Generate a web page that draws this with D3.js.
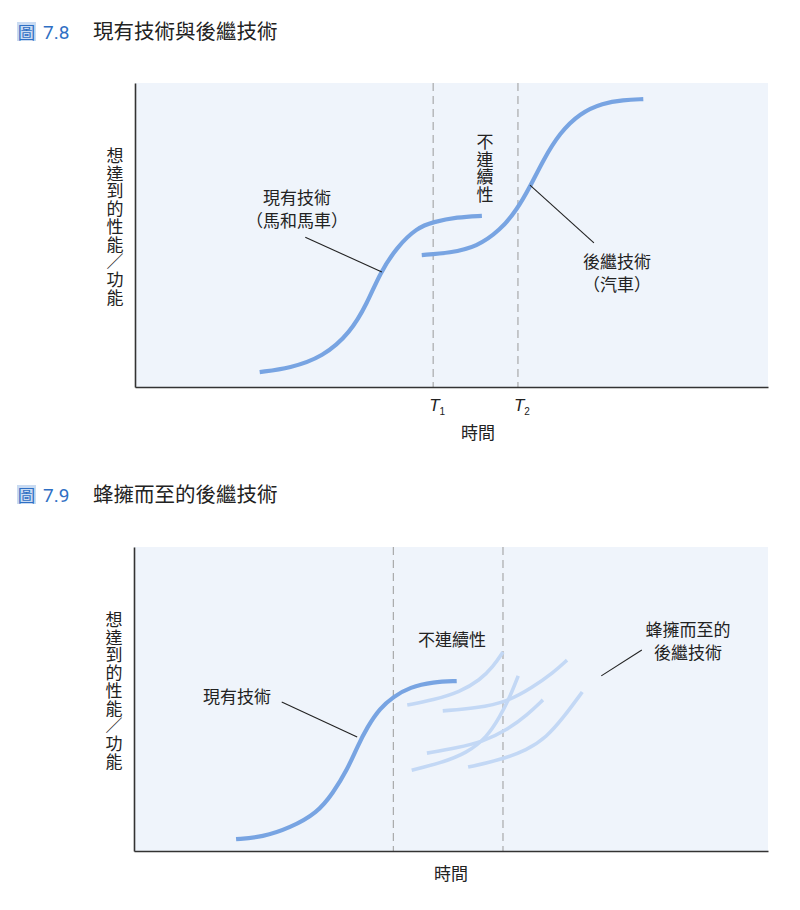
<!DOCTYPE html>
<html>
<head>
<meta charset="utf-8">
<script src="https://cdn.jsdelivr.net/npm/d3@7.9.0/dist/d3.min.js"></script>
<style>
  html, body { margin: 0; padding: 0; background: #fff; }
  svg { display: block; font-family: "Noto Sans CJK TC", "Noto Sans", sans-serif; }
</style>
</head>
<body>
<svg id="chart" width="800" height="910"></svg>
<script>
// curve data: [time, performance], both 0-100
const existingTech78 = [[19.7,4.9],[24.5,6.2],[29.7,9.9],[34.0,17.8],[36.7,27.6],[38.7,37.5],[41.4,46.1],[44.5,52.3],[47.1,54.3],[50.9,55.9],[54.8,56.3]];
const successorTech78 = [[45.3,43.4],[49.8,44.1],[54.0,46.1],[57.7,51.6],[60.3,58.2],[62.4,65.8],[64.5,74.7],[67.1,83.6],[70.3,90.1],[73.9,93.4],[77.1,94.4],[80.3,94.7]];
const breakpoints78 = [47.1, 60.5];
const breakLabels78 = ["1", "2"];

const existingTech79 = [[16.1,3.9],[20.3,4.6],[24.6,7.6],[28.9,12.5],[31.4,19.1],[33.6,26.6],[35.2,34.2],[36.8,40.8],[38.8,47.0],[40.9,50.7],[43.5,53.9],[47.2,55.6],[50.9,55.9]];
const swarm79 = [
  [[43.1,48.0],[47.2,49.7],[51.4,52.3],[54.6,56.3],[56.6,60.5],[58.2,65.5]],
  [[48.7,46.1],[54.1,47.0],[58.8,49.0],[62.9,53.9],[66.1,58.6],[68.3,62.8]],
  [[43.8,26.6],[48.3,28.9],[52.5,32.2],[55.7,37.5],[57.7,44.1],[59.3,50.7],[60.6,57.6]],
  [[46.2,32.2],[50.9,33.9],[55.0,35.9],[58.8,39.8],[62.0,44.7],[64.5,49.7]],
  [[52.7,27.6],[57.7,29.9],[62.0,33.2],[65.1,37.5],[67.7,43.8],[70.7,52.3]]
];
const breakpoints79 = [40.9, 58.2];

const yLabel = "想達到的性能／功能".split("");
const xLabel = "時間";

const BLUE = "#78a4e2", LIGHT = "#c3d8f5", PANEL = "#eff4fb", INK = "#222";

const svg = d3.select("#chart");

function title(y, num, text) {
  const g = svg.append("g");
  g.append("rect").attr("x", 17).attr("y", y - 10).attr("width", 19).attr("height", 19).attr("fill", "#c9dbf2");
  g.append("text").attr("x", 26.5).attr("y", y + 6.5).attr("text-anchor", "middle")
    .attr("font-size", 17.5).attr("fill", "#2f6fc4").text("圖");
  g.append("text").attr("x", 43).attr("y", y + 7).attr("font-size", 19).attr("fill", "#2f6fc4")
    .attr("font-family", "Roboto, 'Noto Sans', sans-serif").text(num);
  g.append("text").attr("x", 93).attr("y", y + 7).attr("font-size", 20.5).attr("fill", INK)
    .text(text);
}

// stacked characters, one per text element
function vertical(g, x, y0, chars, step) {
  chars.forEach((c, i) => {
    g.append("text").attr("x", x).attr("y", y0 + i * step).attr("text-anchor", "middle")
      .attr("font-size", 17).attr("fill", INK).text(c);
  });
}

function frame(box) {
  const x = d3.scaleLinear().domain([0, 100]).range([box.left, box.right]);
  const y = d3.scaleLinear().domain([0, 100]).range([box.bottom, box.top]);
  const g = svg.append("g");
  g.append("rect").attr("x", box.left).attr("y", box.top)
    .attr("width", box.right - box.left).attr("height", box.bottom - box.top).attr("fill", PANEL);
  vertical(g, box.left - 20, box.top + 79, yLabel, 17.7);
  const line = d3.line().x(d => x(d[0])).y(d => y(d[1])).curve(d3.curveBasis);
  return { g, x, y, line };
}

function axes(f, box, breaks) {
  f.g.selectAll("line.brk").data(breaks).join("line").attr("class", "brk")
    .attr("x1", d => f.x(d)).attr("x2", d => f.x(d))
    .attr("y1", box.top).attr("y2", box.bottom)
    .attr("stroke", "#9a9a9a").attr("stroke-width", 1).attr("stroke-dasharray", "8,5");
  const xAxis = d3.axisBottom(f.x).tickValues([]).tickSizeOuter(0);
  f.g.append("g").attr("transform", `translate(0,${box.bottom})`).call(xAxis)
    .select(".domain").attr("stroke", "#333").attr("stroke-width", 1.6);
  const yAxis = d3.axisLeft(f.y).tickValues([]).tickSizeOuter(0);
  f.g.append("g").attr("transform", `translate(${box.left},0)`).call(yAxis)
    .select(".domain").attr("stroke", "#333").attr("stroke-width", 1.6);
}

function label(g, x, y, lines, size = 17) {
  lines.forEach((t, i) => {
    g.append("text").attr("x", x).attr("y", y + i * 23).attr("text-anchor", "middle")
      .attr("font-size", size).attr("fill", INK).text(t);
  });
}

function leader(f, a, b) {
  f.g.append("line").attr("x1", f.x(a[0])).attr("y1", f.y(a[1]))
    .attr("x2", f.x(b[0])).attr("y2", f.y(b[1])).attr("stroke", "#222").attr("stroke-width", 1.1);
}

// ---------- Figure 7.8 ----------
title(32, "7.8", "現有技術與後繼技術");
const box1 = { left: 135, right: 768, top: 83, bottom: 387 };
const f1 = frame(box1);
axes(f1, box1, breakpoints78);
[existingTech78, successorTech78].forEach(pts => {
  f1.g.append("path").attr("d", f1.line(pts)).attr("fill", "none")
    .attr("stroke", BLUE).attr("stroke-width", 4.2);
});
breakpoints78.forEach((b, i) => {
  const t = f1.g.append("text").attr("x", f1.x(b) - 4).attr("y", 411)
    .attr("font-size", 17).attr("fill", INK).attr("font-family", "'Liberation Sans', sans-serif");
  t.append("tspan").attr("font-style", "italic").text("T");
  t.append("tspan").attr("font-size", 10).attr("dy", 4).text(breakLabels78[i]);
});
f1.g.append("text").attr("x", 478).attr("y", 439).attr("text-anchor", "middle")
  .attr("font-size", 17).attr("fill", INK).text(xLabel);
label(f1.g, 297, 204, ["現有技術", "（馬和馬車）"]);
vertical(f1.g, 485, 148, "不連續性".split(""), 17.7);
label(f1.g, 617, 268, ["後繼技術", "（汽車）"]);
leader(f1, [26.9, 49.3], [39.0, 37.8]);
leader(f1, [62.4, 66.4], [72.5, 47.4]);

// ---------- Figure 7.9 ----------
title(495, "7.9", "蜂擁而至的後繼技術");
const box2 = { left: 134, right: 768, top: 547, bottom: 851 };
const f2 = frame(box2);
axes(f2, box2, breakpoints79);
swarm79.forEach(pts => {
  f2.g.append("path").attr("d", f2.line(pts)).attr("fill", "none")
    .attr("stroke", LIGHT).attr("stroke-width", 3.6);
});
f2.g.append("path").attr("d", f2.line(existingTech79)).attr("fill", "none")
  .attr("stroke", BLUE).attr("stroke-width", 4.2);
f2.g.append("text").attr("x", 451).attr("y", 880).attr("text-anchor", "middle")
  .attr("font-size", 17).attr("fill", INK).text(xLabel);
label(f2.g, 237, 703, ["現有技術"]);
label(f2.g, 452, 646, ["不連續性"]);
label(f2.g, 688, 636, ["蜂擁而至的", "後繼技術"]);
leader(f2, [23.3, 49.0], [35.2, 37.5]);
leader(f2, [73.7, 57.6], [80.1, 66.1]);
</script>
</body>
</html>
